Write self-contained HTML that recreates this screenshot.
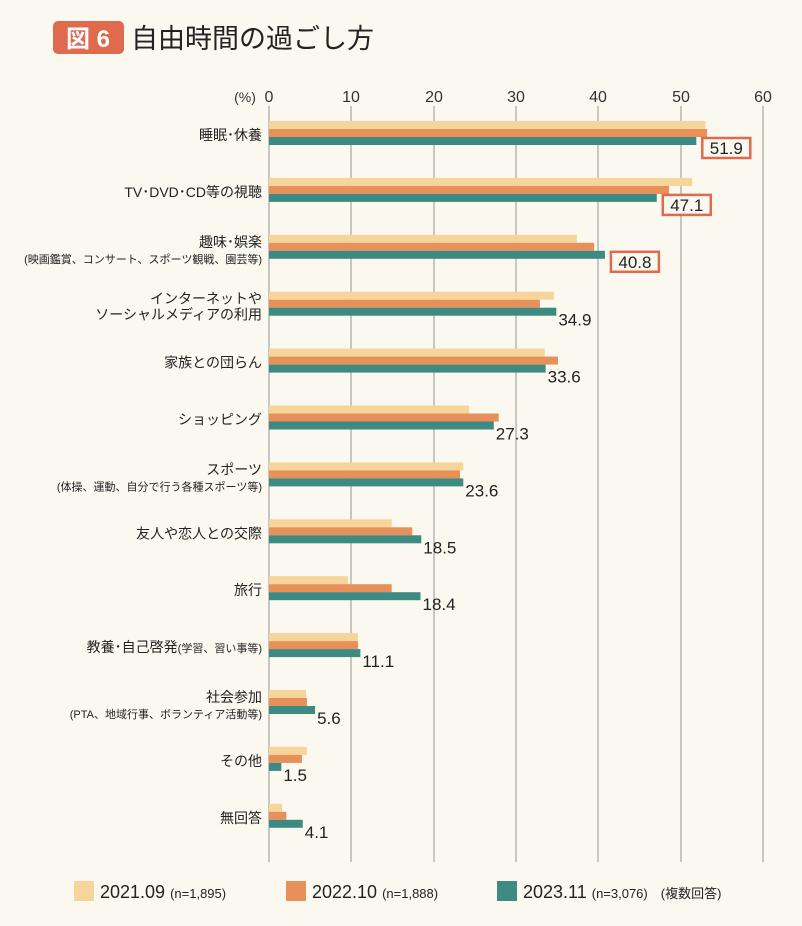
<!DOCTYPE html>
<html><head><meta charset="utf-8"><style>
body{margin:0;background:#fbf8f0;}
svg{display:block;font-family:"Liberation Sans","Noto Sans CJK JP",sans-serif;}
</style></head><body>
<svg width="802" height="926" viewBox="0 0 802 926" xmlns="http://www.w3.org/2000/svg">
<rect width="802" height="926" fill="#fbf8f0"/>
<rect x="53" y="21" width="71" height="33" rx="5" fill="#df6a4e"/>
<text x="88" y="47" font-size="24" fill="#fff" text-anchor="middle" font-weight="bold">図 6</text>
<text x="131" y="48" font-size="27" fill="#222">自由時間の過ごし方</text>
<g font-size="16" fill="#333" text-anchor="middle">
<text x="245" y="102" font-size="14">(%)</text>
<text x="269" y="102">0</text><text x="351" y="102">10</text><text x="434" y="102">20</text>
<text x="516" y="102">30</text><text x="598" y="102">40</text><text x="681" y="102">50</text><text x="763" y="102">60</text>
</g>
<g stroke="#c8c6c2" stroke-width="2">
<line x1="269" y1="106" x2="269" y2="862"/><line x1="351" y1="106" x2="351" y2="862"/><line x1="434" y1="106" x2="434" y2="862"/>
<line x1="516" y1="106" x2="516" y2="862"/><line x1="598" y1="106" x2="598" y2="862"/><line x1="681" y1="106" x2="681" y2="862"/><line x1="763" y1="106" x2="763" y2="862"/>
</g>
<g id="bars"></g>
<g id="labels" font-size="14" fill="#222" text-anchor="end"></g>
<g id="vals" font-size="17" fill="#222"></g>
<g font-size="18" fill="#222">
<rect x="74" y="881" width="20" height="20" fill="#f5d59a"/><text x="100" y="898">2021.09 <tspan font-size="13">(n=1,895)</tspan></text>
<rect x="286" y="881" width="20" height="20" fill="#e8905a"/><text x="312" y="898">2022.10 <tspan font-size="13">(n=1,888)</tspan></text>
<rect x="497" y="881" width="20" height="20" fill="#3d8a83"/><text x="523" y="898">2023.11 <tspan font-size="13">(n=3,076)　(複数回答)</tspan></text>
</g>
</svg>
<script>
const d=[
[["睡眠･休養"],53.0,53.2,51.9,1],
[["TV･DVD･CD等の視聴"],51.4,48.6,47.1,1],
[["趣味･娯楽","(映画鑑賞、コンサート、スポーツ観戦、園芸等)"],37.4,39.5,40.8,1],
[["インターネットや","ソーシャルメディアの利用"],34.6,32.9,34.9,0],
[["家族との団らん"],33.5,35.1,33.6,0],
[["ショッピング"],24.3,27.9,27.3,0],
[["スポーツ","(体操、運動、自分で行う各種スポーツ等)"],23.6,23.2,23.6,0],
[["友人や恋人との交際"],14.9,17.4,18.5,0],
[["旅行"],9.6,14.9,18.4,0],
[["教養･自己啓発(学習、習い事等)"],10.8,10.8,11.1,0],
[["社会参加","(PTA、地域行事、ボランティア活動等)"],4.5,4.6,5.6,0],
[["その他"],4.6,4.0,1.5,0],
[["無回答"],1.6,2.1,4.1,0]];
const ns="http://www.w3.org/2000/svg",s=8.233,x0=269;
function el(p,t,a,txt){const e=document.createElementNS(ns,t);for(const k in a)e.setAttribute(k,a[k]);if(txt!=null)e.textContent=txt;document.getElementById(p).appendChild(e);return e;}
const cols=["#f5d59a","#e8905a","#3d8a83"];
d.forEach((r,i)=>{const y=121+i*56.9;
for(let j=0;j<3;j++)el("bars","rect",{x:x0,y:y+j*8,width:r[j+1]*s,height:8,fill:cols[j]});
const c=y+14;
if(r[0].length==1){const t=r[0][0];
 if(t.includes("(学習")){el("labels","text",{x:262,y:c+5},null).innerHTML='教養･自己啓発<tspan font-size="11">(学習、習い事等)</tspan>';}
 else el("labels","text",{x:262,y:c+5},t);}
else{const small=r[0][1].startsWith("(");
 el("labels","text",{x:262,y:c-2},r[0][0]);
 el("labels","text",{x:262,y:c+14,"font-size":small?11:14},r[0][1]);}
const vx=x0+r[3]*s;
if(r[4]){el("vals","rect",{x:vx+6,y:y+17,width:48,height:20,fill:"#fbf8f0",stroke:"#df6a4e","stroke-width":2.5});
 el("vals","text",{x:vx+30,y:y+33,"text-anchor":"middle"},r[3].toFixed(1));}
else el("vals","text",{x:vx+2,y:y+34},r[3].toFixed(1));
});
</script>
</body></html>
